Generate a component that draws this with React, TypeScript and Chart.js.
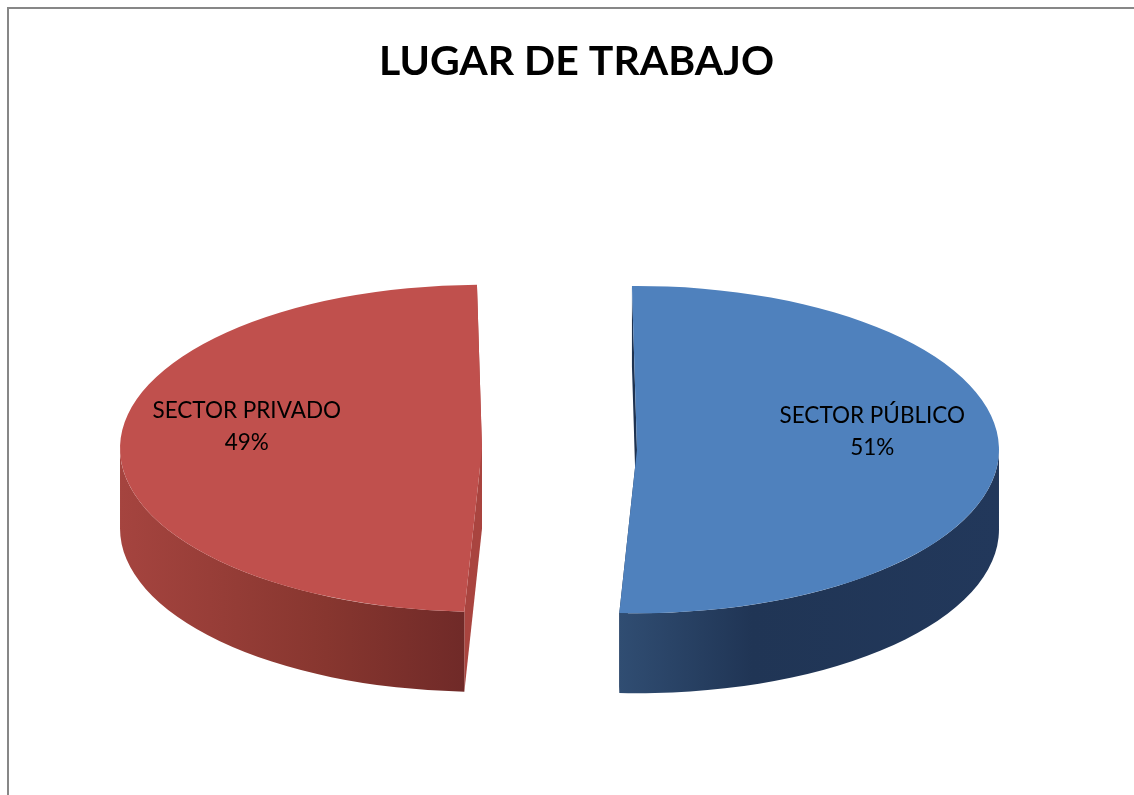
import React, { useEffect, useRef } from "react";
import { Chart, registerables } from "chart.js";

Chart.register(...registerables);

// ---- data ----
const categories = ["SECTOR PÚBLICO", "SECTOR PRIVADO"];
const percentages = [51, 49];
const chartTitle = "LUGAR DE TRABAJO";

// ---- styles ----
const topColors = ["#4F81BD", "#C0504D"];
const cutColors = ["#1E3250", "#A9443F"];
const wallStops: [number, string][][] = [
  [[0, "#304D72"], [0.35, "#203555"], [1, "#22385B"]],
  [[0, "#A5443F"], [0.6, "#87362F"], [1, "#702A28"]],
];
const TILT = 0.452;
const DEPTH = 80;
const CENTER_X = 559.5;
const CENTER_Y = 449;
const RADIUS = 362;
const EXPLODE = 77.5;
const LABEL_FRACTION = 0.65;
const LABEL_LIFT = 20;
const LABEL_LINE = 32;
const FONT = "Lato, 'Open Sans', sans-serif";

type ArcLike = {
  x: number;
  y: number;
  startAngle: number;
  endAngle: number;
  outerRadius: number;
};

function origin(chart: any) {
  const a = chart.chartArea;
  return { ox: (a.left + a.right) / 2, oy: (a.top + a.bottom) / 2 };
}

function mapPt(chart: any, x: number, y: number) {
  const { ox, oy } = origin(chart);
  return { x: CENTER_X + (x - ox), y: CENTER_Y + TILT * (y - oy) };
}

const pie3d = {
  id: "pie3d",
  afterDatasetsUpdate(chart: any) {
    const arcs = chart.getDatasetMeta(0).data as any[];
    arcs.forEach((arc) => {
      const half = (arc.startAngle + arc.endAngle) / 2;
      arc.x += Math.cos(half) * EXPLODE;
      arc.y += Math.sin(half) * EXPLODE;
    });
  },
  beforeDatasetsDraw(chart: any) {
    const ctx: CanvasRenderingContext2D = chart.ctx;
    const arcs = chart.getDatasetMeta(0).data as unknown as ArcLike[];
    ctx.save();
    // cut faces
    arcs.forEach((arc, i) => {
      const c = mapPt(chart, arc.x, arc.y);
      const r = arc.outerRadius;
      ctx.fillStyle = cutColors[i % cutColors.length];
      [arc.startAngle, arc.endAngle].forEach((a) => {
        const px = c.x + r * Math.cos(a);
        const py = c.y + TILT * r * Math.sin(a);
        ctx.beginPath();
        ctx.moveTo(c.x, c.y);
        ctx.lineTo(px, py);
        ctx.lineTo(px, py + DEPTH);
        ctx.lineTo(c.x, c.y + DEPTH);
        ctx.closePath();
        ctx.fill();
      });
    });
    // outer walls (front facing part)
    arcs.forEach((arc, i) => {
      const c = mapPt(chart, arc.x, arc.y);
      const r = arc.outerRadius;
      const TAU = Math.PI * 2;
      for (let k = -2; k <= 2; k++) {
        const s = Math.max(arc.startAngle, k * TAU);
        const e = Math.min(arc.endAngle, k * TAU + Math.PI);
        if (e <= s) continue;
        const xs = c.x + r * Math.cos(s);
        const xe = c.x + r * Math.cos(e);
        let minX = Math.min(xs, xe);
        let maxX = Math.max(xs, xe);
        if (s <= k * TAU + Math.PI && e >= k * TAU + Math.PI) minX = c.x - r;
        if (s <= k * TAU && e >= k * TAU) maxX = c.x + r;
        const g = ctx.createLinearGradient(minX, 0, maxX, 0);
        wallStops[i % wallStops.length].forEach(([o, col]) => g.addColorStop(o, col));
        ctx.fillStyle = g;
        ctx.beginPath();
        ctx.ellipse(c.x, c.y, r, TILT * r, 0, s, e, false);
        ctx.ellipse(c.x, c.y + DEPTH, r, TILT * r, 0, e, s, true);
        ctx.closePath();
        ctx.fill();
      }
    });
    ctx.restore();
    // squash the top faces into ellipses
    const { ox, oy } = origin(chart);
    ctx.save();
    ctx.translate(CENTER_X, CENTER_Y);
    ctx.scale(1, TILT);
    ctx.translate(-ox, -oy);
  },
  afterDatasetsDraw(chart: any) {
    const ctx: CanvasRenderingContext2D = chart.ctx;
    ctx.restore();
    const arcs = chart.getDatasetMeta(0).data as unknown as ArcLike[];
    ctx.save();
    ctx.fillStyle = "#000000";
    ctx.font = `22.5px ${FONT}`;
    ctx.textAlign = "center";
    ctx.textBaseline = "middle";
    arcs.forEach((arc, i) => {
      const mid = (arc.startAngle + arc.endAngle) / 2;
      const rr = arc.outerRadius * LABEL_FRACTION;
      const p = mapPt(chart, arc.x + Math.cos(mid) * rr, arc.y + Math.sin(mid) * rr);
      const cy = p.y - LABEL_LIFT;
      ctx.fillText(categories[i], p.x, cy - LABEL_LINE / 2);
      ctx.fillText(`${percentages[i]}%`, p.x, cy + LABEL_LINE / 2);
    });
    ctx.restore();
  },
};

export default function App() {
  const ref = useRef<HTMLCanvasElement | null>(null);

  useEffect(() => {
    if (!ref.current) return;
    const chart = new Chart(ref.current, {
      type: "pie",
      data: {
        labels: categories,
        datasets: [
          {
            data: percentages,
            backgroundColor: topColors,
            borderWidth: 0,
            radius: RADIUS,
            clip: false,
          } as any,
        ],
      },
      options: {
        responsive: false,
        animation: false,
        rotation: -0.8,
        layout: { padding: { left: 19, right: 0, top: 0, bottom: 0 } },
        plugins: {
          legend: { display: false },
          tooltip: { enabled: false },
          title: {
            display: true,
            text: chartTitle,
            color: "#000000",
            font: { family: FONT, size: 41, weight: "bold" },
            padding: { top: 37, bottom: 0 },
          },
        },
      } as any,
      plugins: [pie3d as any],
    });
    return () => chart.destroy();
  }, []);

  return (
    <div
      style={{
        position: "fixed",
        left: 0,
        top: 0,
        width: 1134,
        height: 795,
        background: "#ffffff",
        overflow: "hidden",
      }}
    >
      <canvas
        ref={ref}
        width={1134}
        height={795}
        style={{ position: "absolute", left: 0, top: 0, width: 1134, height: 795 }}
      />
      <div
        style={{
          position: "absolute",
          left: 7,
          top: 7,
          width: 2000,
          height: 2000,
          borderLeft: "2px solid #878787",
          borderTop: "2px solid #878787",
          pointerEvents: "none",
        }}
      />
    </div>
  );
}
